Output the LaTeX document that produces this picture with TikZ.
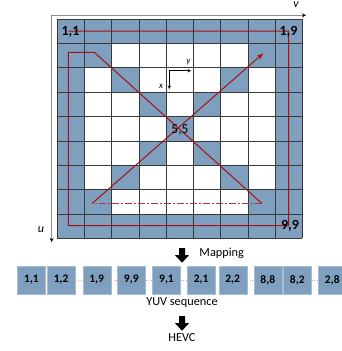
\documentclass[tikz,border=0pt]{standalone}
\usepackage{fontspec}
\setmainfont{Carlito}
\usetikzlibrary{arrows.meta}
\definecolor{cellblue}{HTML}{7F9FBF}
\definecolor{pathred}{HTML}{A80E14}
\definecolor{dotpink}{HTML}{E39A9A}
\tikzset{
  gridline/.style={draw=black!78, line width=0.6pt},
  redpath/.style={draw=pathred, line width=1pt},
  axisline/.style={draw=black!45, line width=0.6pt, -{Stealth[length=4pt,width=4pt,black]}},
  smallaxis/.style={draw=black, line width=0.6pt, -{Stealth[length=3.5pt,width=3.5pt]}},
  celllbl/.style={font=\fontsize{14}{14}\selectfont\bfseries, inner sep=0pt},
  seqbox/.style={fill=cellblue, draw=cellblue!70!white, line width=0.4pt, minimum width=28pt, minimum height=28pt, inner sep=0pt, font=\fontsize{11.5}{11.5}\selectfont\bfseries},
  seqdots/.style={draw=dotpink, line width=0.7pt, dotted},
  plaintxt/.style={font=\fontsize{12.3}{12.3}\selectfont, inner sep=0pt},
  axislbl/.style={font=\fontsize{12}{12}\selectfont\itshape, inner sep=0pt},
  smalllbl/.style={font=\fontsize{9}{9}\selectfont\itshape, inner sep=0pt},
  blockarr/.pic={\fill[black] (-3,0) -- (3,0) -- (3,7) -- (7.2,7) -- (0,14.7) -- (-7.2,7) -- (-3,7) -- cycle;}
}
\begin{document}
\begin{tikzpicture}[x=1pt,y=-1pt]
\useasboundingbox (0,0) rectangle (341,351);
\def\cw{27.22}
\def\ch{24.37}
% cells
\fill[cellblue] (57.3,19) rectangle (302.3,238.3);
\fill[white] ({57.3+\cw},{19+\ch}) rectangle ({302.3-\cw},{238.3-\ch});
\foreach \k in {2,...,8}{
  \fill[cellblue] ({57.3+(\k-1)*\cw},{19+(\k-1)*\ch}) rectangle ++(\cw,\ch);
  \fill[cellblue] ({57.3+(9-\k)*\cw},{19+(\k-1)*\ch}) rectangle ++(\cw,\ch);
}
\foreach \k in {0,...,9}{
  \draw[gridline] ({57.3+\k*\cw},19) -- ({57.3+\k*\cw},238.3);
  \draw[gridline] (57.3,{19+\k*\ch}) -- (302.3,{19+\k*\ch});
}
% axes
\coordinate (ax0) at (51.7,15.3);
\coordinate (axv) at (306,15.3);
\coordinate (axu) at (51.7,242);
\draw[axisline] (ax0) -- (axv);
\draw[axisline] (ax0) -- (axu);
\node[axislbl] (lv) at (296,5) {v};
\node[axislbl] (lu) at (41,230) {u};
% red scan path
\coordinate (p0) at (68.3,31);
\coordinate (p1) at (288.7,31);
\coordinate (p2) at (288.7,225.7);
\coordinate (p3) at (68.3,225.7);
\coordinate (p4) at (68.3,52.3);
\coordinate (p5) at (94.3,52.3);
\coordinate (p6) at (261.7,203.3);
\coordinate (p7) at (92.3,203.3);
\coordinate (p8) at (263.3,53.3);
\draw[redpath, line join=miter] (p0) -- (p1) -- (p2) -- (p3) -- (p4) -- (p5) -- (p6);
\draw[redpath, draw=pathred!85!white, dash pattern=on 6.5pt off 2.5pt on 1.5pt off 2.5pt] (p6) -- (p7);
\draw[redpath, -{Stealth[length=7pt,width=5pt]}] (p7) -- (p8);
% small axes
\coordinate (o) at (169.3,70.7);
\coordinate (oy) at (191,70.7);
\coordinate (ox) at (169.3,89);
\draw[smallaxis] (o) -- (oy);
\draw[smallaxis] (o) -- (ox);
\node[smalllbl] (ly) at (188.5,62) {y};
\node[smalllbl] (lx) at (161,86) {x};
% cell labels
\node[celllbl] (c11) at (70.5,31.5) {1,1};
\node[celllbl] (c19) at (288.5,32) {1,9};
\node[celllbl] (c99) at (290,226) {9,9};
\node[celllbl, font=\fontsize{13.5}{13.5}\selectfont] (c55) at (180,130) {5,5};
% mapping
\pic at (182,248) {blockarr};
\node[plaintxt] (map) at (221.7,253) {Mapping};
% sequence
\node[seqbox] (b1) at (31.5,280) {1,1};
\node[seqbox] (b2) at (61.2,280) {1,2};
\node[seqbox] (b3) at (96.7,280) {1,9};
\node[seqbox] (b4) at (131.3,280) {9,9};
\node[seqbox] (b5) at (166.5,280) {9,1};
\node[seqbox] (b6) at (201.2,280) {2,1};
\node[seqbox] (b7) at (232.7,280) {2,2};
\node[seqbox] (b8) at (267.8,280) {8,8};
\node[seqbox] (b9) at (297.3,280) {8,2};
\node[seqbox] (b10) at (332.3,280) {2,8};
\draw[seqdots] (b2) -- (b3);
\draw[seqdots] (b3) -- (b4);
\draw[seqdots] (b4) -- (b5);
\draw[seqdots] (b5) -- (b6);
\draw[seqdots] (b7) -- (b8);
\draw[seqdots] (b9) -- (b10);
\node[plaintxt] (yuv) at (182,303) {YUV sequence};
\pic at (182,316) {blockarr};
\node[plaintxt] (hevc) at (182,337.5) {HEVC};
\end{tikzpicture}
\end{document}
